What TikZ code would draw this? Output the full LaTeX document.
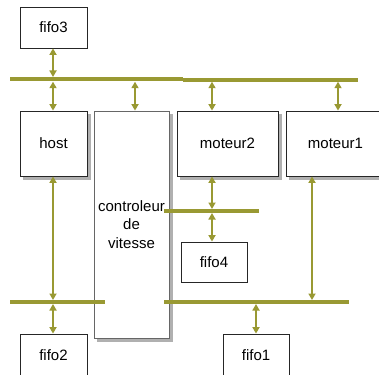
\documentclass[tikz,border=0pt]{standalone}
\usepackage{fontspec}
\setmainfont{Liberation Sans}
\usetikzlibrary{arrows.meta}
\definecolor{olivebus}{HTML}{999933}
\definecolor{shadowgray}{HTML}{B0B0B0}
\begin{document}
\begin{tikzpicture}[x=1pt,y=-1pt,
 box/.style={draw=black!85,line width=0.8pt,fill=white,inner sep=0pt,font=\fontsize{15}{18.5}\selectfont,align=center},
 shbox/.style={box},
 shadowfill/.style={fill=shadowgray,draw=none},
 bus/.style={draw=olivebus,line width=4pt},
 link/.style={draw=olivebus,line width=2.2pt,{Triangle[width=7pt,length=6.5pt]}-{Triangle[width=7pt,length=6.5pt]}}]
\useasboundingbox (0,0) rectangle (379,374);
% shadows
\fill[shadowfill] (23,114) rectangle (90.5,179.5);
\fill[shadowfill] (97,114) rectangle (172.5,341.5);
\fill[shadowfill] (180,114) rectangle (281.5,179.5);
\fill[shadowfill] (289,114) rectangle (390,179.5);
% boxes
\node[box,minimum width=67pt,minimum height=41pt] (fifo3) at (53.5,27.5) {fifo3};
\node[shbox,minimum width=67pt,minimum height=65pt] (host) at (53.5,143.5) {host};
\node[shbox,draw=black!60,minimum width=75pt,minimum height=227pt] (ctrl) at (131.5,224.5) {controleur\\de\\vitesse};
\node[shbox,minimum width=101pt,minimum height=65pt] (moteur2) at (227.5,143.5) {moteur2};
\node[shbox,minimum width=99pt,minimum height=65pt] (moteur1) at (335.5,143.5) {moteur1};
\node[box,minimum width=66pt,minimum height=40pt] (fifo4) at (214,262) {fifo4};
\node[box,minimum width=67pt,minimum height=42pt] (fifo2) at (53.5,355) {fifo2};
\node[box,minimum width=66pt,minimum height=42pt] (fifo1) at (256,355) {fifo1};
% buses
\coordinate (tbA) at (10,78.7);
\coordinate (tbB) at (183,78.7);
\coordinate (tbC) at (183,79.7);
\coordinate (tbD) at (358,79.7);
\coordinate (mbA) at (164,211);
\coordinate (mbB) at (259,211);
\coordinate (blA) at (10,302);
\coordinate (blB) at (105,302);
\coordinate (brA) at (164,302);
\coordinate (brB) at (349,302);
\coordinate (tbTop) at (0,77);
\coordinate (tbBot) at (0,81.7);
\coordinate (mbTop) at (0,209);
\coordinate (mbBot) at (0,213);
\coordinate (bbTop) at (0,300);
\coordinate (bbBot) at (0,304);
\draw[bus] (tbA) -- (tbB);
\draw[bus] (tbC) -- (tbD);
\draw[bus] (mbA) -- (mbB);
\draw[bus] (blA) -- (blB);
\draw[bus] (brA) -- (brB);
% links
\draw[link] ([xshift=-0.5pt]fifo3.south) -- ([xshift=-0.5pt]fifo3.south |- tbTop);
\draw[link] ([xshift=-0.5pt]host.north |- tbBot) -- ([xshift=-0.5pt]host.north);
\draw[link] ([xshift=3.5pt]ctrl.north |- tbBot) -- ([xshift=3.5pt]ctrl.north);
\draw[link] ([xshift=-15.5pt]moteur2.north |- tbBot) -- ([xshift=-15.5pt]moteur2.north);
\draw[link] ([xshift=2.5pt]moteur1.north |- tbBot) -- ([xshift=2.5pt]moteur1.north);
\draw[link] ([xshift=-0.5pt]host.south) -- ([xshift=-0.5pt]host.south |- bbTop);
\draw[link] ([xshift=-0.5pt]fifo2.north |- bbBot) -- ([xshift=-0.5pt]fifo2.north);
\draw[link] ([xshift=-15.5pt]moteur2.south) -- ([xshift=-15.5pt]moteur2.south |- mbTop);
\draw[link] ([xshift=-2pt]fifo4.north |- mbBot) -- ([xshift=-2pt]fifo4.north);
\draw[link] ([xshift=-23.5pt]moteur1.south) -- ([xshift=-23.5pt]moteur1.south |- bbTop);
\draw[link] (fifo1.north |- bbBot) -- (fifo1.north);
\end{tikzpicture}
\end{document}
